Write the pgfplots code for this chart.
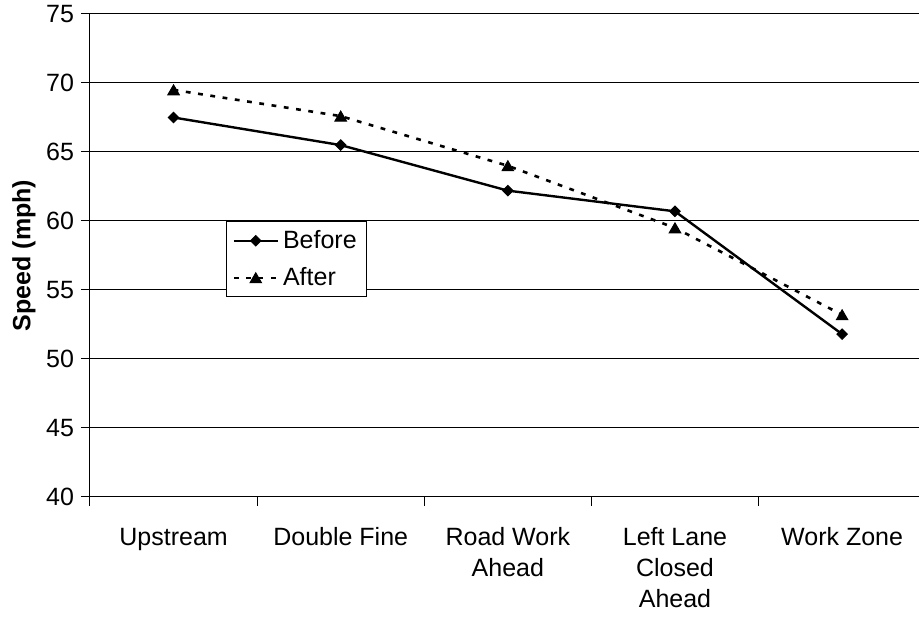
\documentclass[border=0pt]{standalone}
\usepackage{pgfplots}
\pgfplotsset{compat=1.18}
\usepackage{fontspec}
\setmainfont{Liberation Sans}
\begin{document}
\begin{tikzpicture}
\begin{axis}[
  scale only axis,
  width=414.5pt, height=241.5pt,
  xmin=-0.5, xmax=4.46,
  ymin=40, ymax=75,
  ytick={40,45,...,75},
  xtick={0,1,2,3,4},
  xticklabels={\strut Upstream, \strut Double Fine, {\strut Road Work\\Ahead}, {\strut Left Lane\\Closed\\Ahead}, \strut Work Zone},
  minor xtick={-0.5,0.5,1.5,2.5,3.5},
  axis x line*=bottom, axis y line*=left,
  axis line style={line width=0.5pt, black},
  tick align=outside,
  major tick length=4.5pt, minor tick length=4.5pt,
  tick style={line width=0.5pt, black},
  major x tick style={draw=none},
  ymajorgrids,
  major grid style={line width=0.5pt, black},
  /pgf/number format/assume math mode=true,
  ticklabel style={font=\fontsize{12.5}{15.5}\selectfont},
  xticklabel style={align=center, yshift=-5.5pt},
  ylabel={\bfseries Speed (mph)},
  every axis y label/.style={at={(axis description cs:-0.0796,0.5)}, rotate=90, anchor=center, font=\fontsize{12.5}{15}\selectfont},
  legend style={at={(0.164,0.571)}, anchor=north west, draw=black, line width=0.5pt, fill=white,
    font=\fontsize{12.5}{15}\selectfont, cells={anchor=west}, inner xsep=3pt, inner ysep=2.25pt, row sep=4pt},
  legend image code/.code={\draw[mark repeat=2,mark phase=2,#1] plot coordinates {(0pt,0pt)(11pt,0pt)(22pt,0pt)};},
]
\addplot[black, line width=1.2pt, mark=diamond*, mark size=2.6pt, mark options={solid, line width=0.5pt, xscale=1.333}]
  coordinates {(0,67.5) (1,65.5) (2,62.2) (3,60.7) (4,51.8)};
\addlegendentry{Before}
\addplot[black, line width=1.3pt, dash pattern=on 2.4pt off 3.8pt, mark=triangle*, mark size=3.3pt, mark options={solid, line width=0.5pt, yshift=-0.8pt}]
  coordinates {(0,69.5) (1,67.6) (2,64.0) (3,59.5) (4,53.2)};
\addlegendentry{After}
\end{axis}
\pgfresetboundingbox
\useasboundingbox ([shift={(-45pt,-61pt)}]current axis.south west) rectangle ++(459.5pt,309.5pt);
\end{tikzpicture}
\end{document}
